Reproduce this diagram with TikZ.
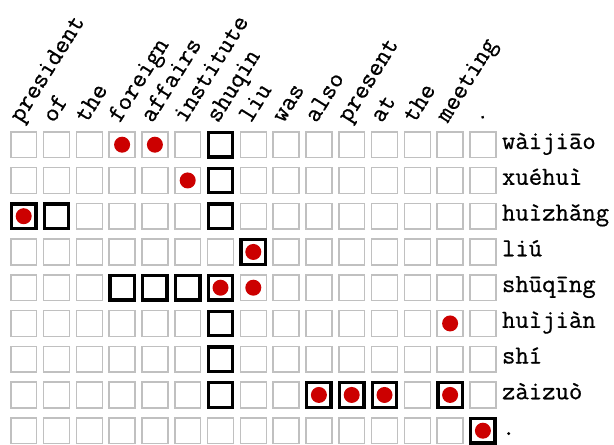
\documentclass[tikz,border=0pt]{standalone}
\usepackage{fontspec}
\usepackage{tikz}
\usetikzlibrary{positioning}
\newfontfamily\gridmono[FakeBold=0.6]{Latin Modern Mono}
\definecolor{cellgray}{RGB}{192,192,192}
\definecolor{dotred}{RGB}{204,0,0}

\begin{document}
\begin{tikzpicture}[
        x=0.5pt, y=0.5pt,
        cell/.style={draw=cellgray, line width=0.75pt, minimum size=12.95pt, inner sep=0pt},
        markbox/.style={draw=black, line width=1.65pt, minimum size=12.2pt, inner sep=0pt},
        hit/.style={fill=dotred, circle, minimum size=8pt, inner sep=0pt},
        word/.style={font=\gridmono\fontsize{13}{15}\selectfont, anchor=base west, rotate=58, inner sep=0pt},
        pinyin/.style={font=\gridmono\fontsize{13}{15}\selectfont, inner sep=0pt}
    ]
        \useasboundingbox (0,0) rectangle (614,-444);

        % Alignment grid
        \foreach \i in {0,...,8}
            \foreach \j in {0,...,14}
                \node[cell] (cell-\i-\j) at (23.7+32.8*\j, -144.7-35.75*\i) {};

        % English words
        \foreach \w [count=\j from 0] in {president,of,the,foreign,affairs,institute,shuqin,liu,was,also,present,at,the,meeting,.}
            \node[word] (word-\j) at (21+32.8*\j, -124) {\w};

        % Pinyin words
        \foreach \p [count=\i from 0] in {wàijiāo,xuéhuì,huìzhǎng,liú,shūqīng,huìjiàn,shí,zàizuò,.}
            \node[pinyin, right=2.5pt of cell-\i-14.east, anchor=mid west] (pinyin-\i) {\p};

        % Reference links
        \foreach \i/\j in {0/6,1/6,2/0,2/1,2/6,3/7,4/3,4/4,4/5,4/6,5/6,6/6,7/6,7/9,7/10,7/11,7/13,8/14}
            \node[markbox] (box-\i-\j) at (cell-\i-\j) {};

        % Predicted links
        \foreach \i/\j in {0/3,0/4,1/5,2/0,3/7,4/6,4/7,5/13,7/9,7/10,7/11,7/13,8/14}
            \node[hit] (hit-\i-\j) at (cell-\i-\j) {};
    \end{tikzpicture}
\end{document}
